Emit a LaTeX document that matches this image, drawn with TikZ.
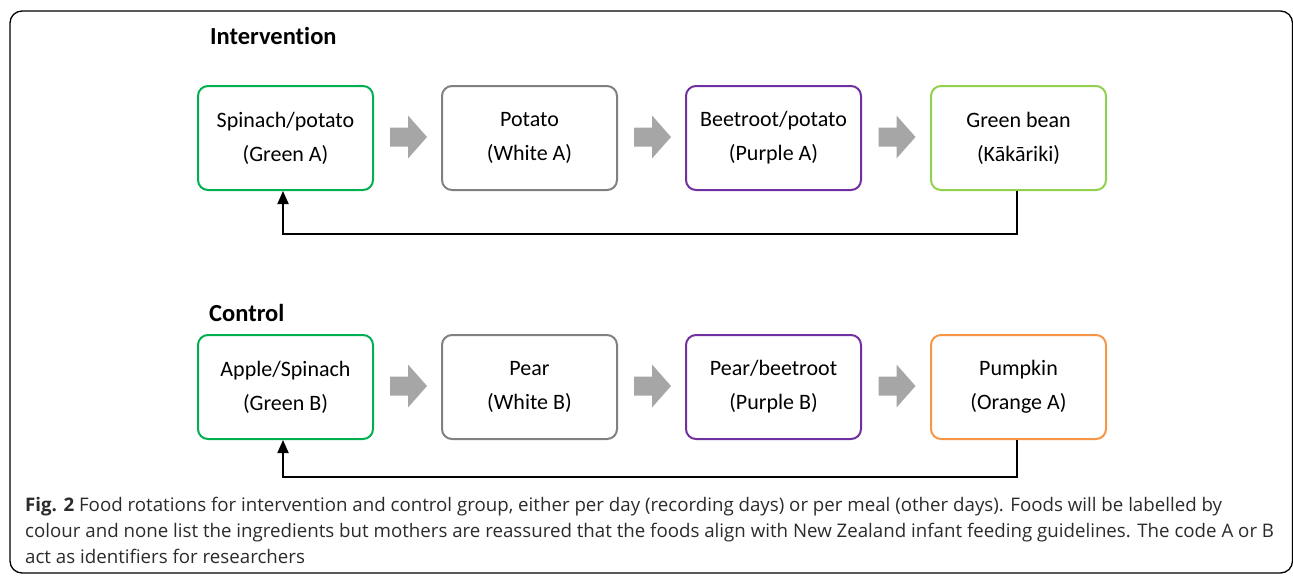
\documentclass[tikz,border=0pt]{standalone}
\usepackage{fontspec}
\setmainfont{Carlito}[Ligatures=NoCommon]
\newfontfamily\capfont{Open Sans}
\usetikzlibrary{arrows.meta,calc}
\definecolor{cgreen}{RGB}{0,176,80}
\definecolor{cgray}{RGB}{128,128,128}
\definecolor{cpurple}{RGB}{112,48,160}
\definecolor{clight}{RGB}{146,208,80}
\definecolor{corange}{RGB}{247,150,70}
\definecolor{agray}{RGB}{166,166,166}
\definecolor{captext}{RGB}{45,42,43}
\tikzset{
  food/.style={draw=#1, line width=2pt, rounded corners=10pt, minimum width=175pt, minimum height=104pt, align=center, inner sep=0pt, font=\fontsize{22}{34}\selectfont},
  loopline/.style={draw=black, line width=1.8pt, -{Triangle[length=13pt,width=11pt]}},
  heading/.style={font=\fontsize{24.5}{28}\selectfont\bfseries, anchor=west, inner sep=0pt},
  frame/.style={draw=black, line width=1.3pt, rounded corners=12pt}
}
\newcommand\blockarrow[1]{\fill[agray] (#1) ++(-18.5,-9.5) -- ++(18,0) -- ++(0,-12) -- ++(19,21.5) -- ++(-19,21.5) -- ++(0,-12) -- ++(-18,0) -- cycle;}
\begin{document}
\begin{tikzpicture}[x=1pt,y=-1pt]
\useasboundingbox (0,0) rectangle (1293,576);
\draw[frame] (10,11) rectangle (1292.5,573);
\node[heading] (hint) at (210,36) {Intervention};
\node[food=cgreen] (a1) at (285.5,138) {Spinach/potato\\(Green A)};
\node[food=cgray] (a2) at (529.5,138) {Potato\\(White A)};
\node[food=cpurple] (a3) at (773.5,138) {Beetroot/potato\\(Purple A)};
\node[food=clight] (a4) at (1018.5,138) {Green bean\\(K\=ak\=ariki)};
\blockarrow{$(a1.east)!0.5!(a2.west)+(1,-1)$}
\blockarrow{$(a2.east)!0.5!(a3.west)+(1,-1)$}
\blockarrow{$(a3.east)!0.5!(a4.west)+(1,-1)$}
\coordinate (r1) at ($(a4.south)+(-1.5,43)$);
\coordinate (l1) at ($(a1.south)+(-2.5,43)$);
\draw[loopline] ([xshift=-1.5pt]a4.south) -- (r1) -- (l1) -- ([xshift=-2.5pt]a1.south);
\node[heading] (hcon) at (209,313) {Control};
\node[food=cgreen] (b1) at (285.5,387) {Apple/Spinach\\(Green B)};
\node[food=cgray] (b2) at (529.5,387) {Pear\\(White B)};
\node[food=cpurple] (b3) at (773.5,387) {Pear/beetroot\\(Purple B)};
\node[food=corange] (b4) at (1018.5,387) {Pumpkin\\(Orange A)};
\blockarrow{$(b1.east)!0.5!(b2.west)+(1,-1)$}
\blockarrow{$(b2.east)!0.5!(b3.west)+(1,-1)$}
\blockarrow{$(b3.east)!0.5!(b4.west)+(1,-1)$}
\coordinate (r2) at ($(b4.south)+(-1.5,37)$);
\coordinate (l2) at ($(b1.south)+(-2.5,37)$);
\draw[loopline] ([xshift=-1.5pt]b4.south) -- (r2) -- (l2) -- ([xshift=-2.5pt]b1.south);
\node[anchor=north west, inner sep=0pt, align=left, text=captext, font=\capfont\fontsize{18.7}{26}\selectfont] (cap) at (25,497) {{\bfseries Fig. 2} Food rotations for intervention and control group, either per day (recording days) or per meal (other days). Foods will be labelled by\\colour and none list the ingredients but mothers are reassured that the foods align with New Zealand infant feeding guidelines. The code A or B\\act as identifiers for researchers};
\end{tikzpicture}
\end{document}
